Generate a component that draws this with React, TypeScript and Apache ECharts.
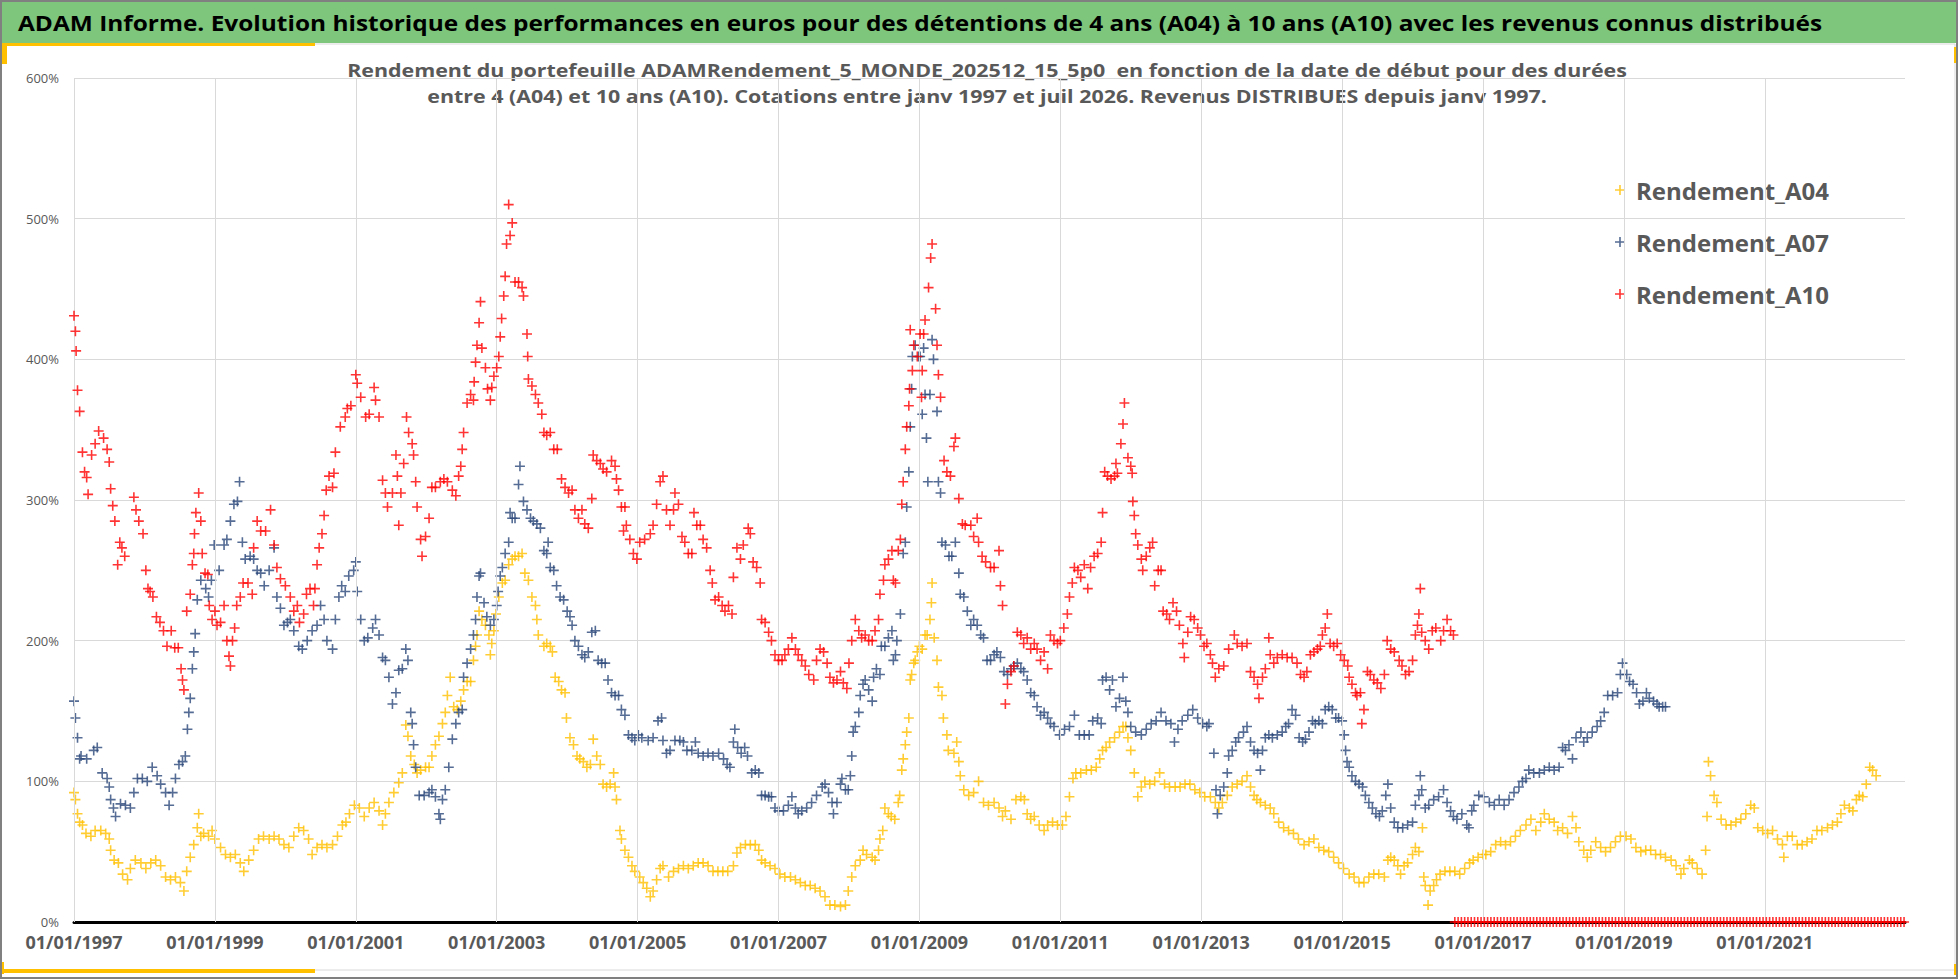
import { useEffect, useRef } from 'react';
import * as echarts from 'echarts';

const TITLE =
  'ADAM Informe. Evolution historique des performances en euros pour des détentions de 4 ans (A04) à 10 ans (A10) avec les revenus connus distribués';
const SUBTITLE_1 =
  'Rendement du portefeuille ADAMRendement_5_MONDE_202512_15_5p0  en fonction de la date de début pour des durées';
const SUBTITLE_2 =
  'entre 4 (A04) et 10 ans (A10). Cotations entre janv 1997 et juil 2026. Revenus DISTRIBUES depuis janv 1997.';

const SERIES_NAMES = ['Rendement_A04', 'Rendement_A07', 'Rendement_A10'];
const SERIES_COLORS = ['#FFC000', '#2B4779', '#FF0000'];

// années affichées sur l'axe (01/01/AAAA)
const X_TICKS = [1997, 1999, 2001, 2003, 2005, 2007, 2009, 2011, 2013, 2015, 2017, 2019, 2021];
const X_MIN = 1997;
const X_MAX = 2022.99;

// [date (année décimale), rendement %]
const rendementA04: [number, number][] = [
  [1997.0, 92], [1997.02, 87], [1997.05, 77], [1997.08, 71], [1997.12, 69], [1997.17, 63], [1997.24, 61], [1997.3, 65],
  [1997.38, 65], [1997.45, 63], [1997.5, 59], [1997.52, 51], [1997.57, 44], [1997.63, 42], [1997.69, 34], [1997.76, 30],
  [1997.8, 38], [1997.87, 44], [1997.95, 42], [1998.02, 38], [1998.09, 42], [1998.16, 44], [1998.23, 40], [1998.3, 32],
  [1998.37, 30], [1998.44, 32], [1998.51, 28], [1998.56, 22], [1998.6, 36], [1998.65, 46], [1998.7, 55], [1998.75, 67],
  [1998.77, 77], [1998.8, 61], [1998.84, 63], [1998.91, 61], [1998.96, 65], [1999.0, 59], [1999.08, 53], [1999.15, 48],
  [1999.22, 46], [1999.29, 48], [1999.36, 42], [1999.41, 36], [1999.48, 44], [1999.55, 51], [1999.62, 59], [1999.69, 61],
  [1999.77, 59], [1999.84, 61], [1999.91, 59], [1999.98, 55], [2000.05, 53], [2000.12, 61], [2000.19, 67], [2000.26, 65],
  [2000.33, 59], [2000.38, 48], [2000.45, 53], [2000.52, 55], [2000.59, 53], [2000.67, 55], [2000.74, 61], [2000.81, 69],
  [2000.86, 71], [2000.91, 77], [2000.98, 83], [2001.05, 81], [2001.12, 75], [2001.19, 81], [2001.26, 85], [2001.33, 79],
  [2001.38, 69], [2001.42, 77], [2001.47, 85], [2001.54, 92], [2001.61, 99], [2001.66, 106], [2001.71, 140], [2001.74, 132],
  [2001.78, 118], [2001.83, 112], [2001.87, 106], [2001.92, 108], [2001.99, 110], [2002.04, 110], [2002.08, 118], [2002.13, 126],
  [2002.18, 132], [2002.23, 141], [2002.27, 149], [2002.3, 161], [2002.34, 174], [2002.39, 153], [2002.44, 151], [2002.49, 157],
  [2002.53, 165], [2002.58, 171], [2002.63, 171], [2002.67, 186], [2002.7, 196], [2002.72, 204], [2002.75, 221], [2002.79, 215],
  [2002.84, 211], [2002.89, 204], [2002.91, 190], [2002.93, 198], [2002.96, 207], [2002.99, 219], [2003.03, 231], [2003.08, 241],
  [2003.12, 243], [2003.17, 254], [2003.22, 258], [2003.26, 260], [2003.31, 260], [2003.36, 262], [2003.4, 248], [2003.45, 243],
  [2003.5, 231], [2003.55, 225], [2003.57, 215], [2003.59, 204], [2003.67, 196], [2003.71, 198], [2003.76, 196], [2003.79, 192],
  [2003.83, 174], [2003.88, 171], [2003.92, 165], [2003.97, 163], [2003.99, 145], [2004.04, 131], [2004.09, 126], [2004.14, 118],
  [2004.18, 116], [2004.23, 114], [2004.28, 110], [2004.33, 112], [2004.37, 130], [2004.42, 118], [2004.47, 112], [2004.51, 98],
  [2004.56, 96], [2004.61, 98], [2004.66, 106], [2004.68, 96], [2004.7, 87], [2004.75, 65], [2004.77, 59], [2004.82, 51],
  [2004.87, 46], [2004.92, 40], [2004.96, 36], [2005.03, 32], [2005.08, 28], [2005.13, 24], [2005.18, 18], [2005.22, 22],
  [2005.27, 30], [2005.32, 38], [2005.36, 40], [2005.44, 32], [2005.51, 36], [2005.58, 38], [2005.65, 40], [2005.72, 38],
  [2005.79, 40], [2005.86, 42], [2005.93, 42], [2006.0, 40], [2006.07, 36], [2006.14, 36], [2006.21, 36], [2006.28, 36],
  [2006.36, 40], [2006.41, 49], [2006.46, 53], [2006.53, 55], [2006.6, 55], [2006.67, 55], [2006.72, 51], [2006.76, 44],
  [2006.81, 42], [2006.88, 40], [2006.95, 38], [2007.02, 34], [2007.09, 32], [2007.17, 32], [2007.24, 30], [2007.31, 28],
  [2007.38, 26], [2007.45, 26], [2007.52, 24], [2007.59, 22], [2007.66, 18], [2007.73, 12], [2007.8, 12], [2007.88, 11],
  [2007.95, 12], [2007.99, 22], [2008.04, 32], [2008.09, 40], [2008.16, 44], [2008.2, 51], [2008.25, 48], [2008.33, 46],
  [2008.37, 44], [2008.42, 51], [2008.44, 59], [2008.48, 65], [2008.51, 81], [2008.56, 77], [2008.6, 75], [2008.65, 73],
  [2008.7, 85], [2008.72, 90], [2008.75, 108], [2008.77, 116], [2008.8, 126], [2008.82, 135], [2008.85, 145], [2008.87, 172],
  [2008.89, 176], [2008.92, 184], [2008.94, 186], [2008.97, 192], [2009.0, 196], [2009.04, 194], [2009.08, 204], [2009.11, 204],
  [2009.15, 215], [2009.17, 227], [2009.18, 241], [2009.21, 202], [2009.25, 186], [2009.27, 167], [2009.32, 161], [2009.34, 145],
  [2009.39, 133], [2009.41, 122], [2009.49, 120], [2009.53, 128], [2009.56, 114], [2009.58, 104], [2009.63, 94], [2009.7, 90],
  [2009.77, 92], [2009.84, 100], [2009.91, 85], [2009.98, 83], [2010.06, 85], [2010.13, 81], [2010.18, 75], [2010.22, 79],
  [2010.3, 73], [2010.37, 87], [2010.44, 89], [2010.49, 87], [2010.53, 77], [2010.58, 73], [2010.63, 75], [2010.7, 69],
  [2010.77, 65], [2010.82, 69], [2010.89, 71], [2010.96, 69], [2011.03, 69], [2011.08, 75], [2011.13, 89], [2011.18, 102],
  [2011.22, 106], [2011.29, 106], [2011.37, 108], [2011.44, 108], [2011.51, 110], [2011.56, 116], [2011.6, 122], [2011.65, 124],
  [2011.7, 128], [2011.77, 131], [2011.84, 135], [2011.89, 139], [2011.93, 139], [2011.96, 131], [2012.0, 122], [2012.05, 106],
  [2012.1, 89], [2012.15, 96], [2012.2, 100], [2012.27, 98], [2012.34, 100], [2012.41, 106], [2012.48, 98], [2012.55, 96],
  [2012.63, 96], [2012.7, 96], [2012.77, 98], [2012.84, 98], [2012.91, 94], [2012.98, 92], [2013.05, 89], [2013.13, 89],
  [2013.2, 85], [2013.25, 81], [2013.3, 85], [2013.37, 90], [2013.44, 96], [2013.51, 98], [2013.58, 100], [2013.65, 104],
  [2013.7, 96], [2013.75, 90], [2013.79, 87], [2013.84, 85], [2013.91, 83], [2013.98, 81], [2014.03, 77], [2014.1, 71],
  [2014.17, 67], [2014.24, 65], [2014.31, 63], [2014.38, 59], [2014.46, 55], [2014.53, 57], [2014.6, 59], [2014.67, 53],
  [2014.74, 51], [2014.81, 50], [2014.88, 46], [2014.95, 42], [2015.02, 38], [2015.1, 34], [2015.17, 32], [2015.24, 28],
  [2015.31, 28], [2015.38, 32], [2015.45, 34], [2015.52, 34], [2015.6, 32], [2015.65, 44], [2015.69, 46], [2015.74, 44],
  [2015.79, 40], [2015.83, 34], [2015.88, 40], [2015.93, 42], [2016.0, 48], [2016.04, 53], [2016.09, 50], [2016.14, 67],
  [2016.16, 32], [2016.18, 26], [2016.22, 12], [2016.25, 22], [2016.3, 26], [2016.34, 30], [2016.39, 34], [2016.46, 36],
  [2016.53, 36], [2016.6, 36], [2016.67, 34], [2016.74, 38], [2016.81, 42], [2016.86, 44], [2016.93, 46], [2017.0, 48],
  [2017.04, 48], [2017.11, 50], [2017.18, 55], [2017.25, 57], [2017.32, 55], [2017.39, 57], [2017.46, 61], [2017.53, 65],
  [2017.61, 69], [2017.68, 73], [2017.75, 65], [2017.82, 71], [2017.87, 77], [2017.94, 73], [2018.01, 71], [2018.06, 65],
  [2018.13, 67], [2018.2, 63], [2018.27, 75], [2018.32, 67], [2018.36, 57], [2018.43, 51], [2018.48, 46], [2018.53, 51],
  [2018.6, 57], [2018.67, 53], [2018.74, 50], [2018.81, 53], [2018.88, 57], [2018.95, 61], [2019.03, 61], [2019.1, 59],
  [2019.17, 53], [2019.24, 50], [2019.31, 51], [2019.38, 51], [2019.45, 48], [2019.52, 48], [2019.59, 46], [2019.67, 44],
  [2019.74, 40], [2019.81, 34], [2019.85, 38], [2019.93, 44], [2019.97, 42], [2020.04, 38], [2020.11, 34], [2020.16, 51],
  [2020.18, 75], [2020.2, 114], [2020.23, 104], [2020.28, 90], [2020.32, 85], [2020.38, 73], [2020.45, 69], [2020.52, 69],
  [2020.59, 71], [2020.66, 73], [2020.73, 77], [2020.8, 83], [2020.85, 81], [2020.9, 67], [2020.97, 65], [2021.04, 63],
  [2021.11, 65], [2021.18, 59], [2021.25, 55], [2021.27, 46], [2021.32, 61], [2021.39, 61], [2021.46, 55], [2021.53, 55],
  [2021.6, 57], [2021.67, 59], [2021.74, 65], [2021.81, 65], [2021.89, 67], [2021.96, 69], [2022.03, 71], [2022.08, 77],
  [2022.13, 83], [2022.2, 81], [2022.25, 79], [2022.3, 87], [2022.34, 90], [2022.39, 89], [2022.44, 98], [2022.49, 110],
  [2022.53, 108], [2022.58, 104],
];

const rendementA07: [number, number][] = [
  [1997.0, 157], [1997.02, 145], [1997.05, 131], [1997.08, 116], [1997.1, 118], [1997.18, 116], [1997.28, 122], [1997.33, 124],
  [1997.4, 106], [1997.47, 102], [1997.5, 96], [1997.52, 87], [1997.56, 81], [1997.59, 75], [1997.66, 84], [1997.73, 83],
  [1997.8, 81], [1997.85, 92], [1997.9, 102], [1997.97, 102], [1998.04, 100], [1998.11, 110], [1998.18, 104], [1998.23, 98],
  [1998.3, 92], [1998.35, 83], [1998.4, 92], [1998.44, 102], [1998.49, 112], [1998.54, 114], [1998.58, 118], [1998.61, 137],
  [1998.63, 149], [1998.65, 159], [1998.68, 180], [1998.7, 192], [1998.72, 205], [1998.75, 229], [1998.8, 243], [1998.87, 237],
  [1998.91, 231], [1998.95, 243], [1998.99, 268], [1999.06, 250], [1999.13, 268], [1999.17, 272], [1999.22, 285], [1999.27, 297],
  [1999.32, 299], [1999.35, 313], [1999.39, 270], [1999.43, 258], [1999.5, 260], [1999.55, 258], [1999.6, 250], [1999.65, 248],
  [1999.7, 239], [1999.77, 250], [1999.84, 266], [1999.88, 231], [1999.93, 223], [1999.98, 211], [2000.03, 213], [2000.07, 215],
  [2000.12, 207], [2000.19, 196], [2000.24, 194], [2000.31, 200], [2000.38, 207], [2000.45, 211], [2000.5, 225], [2000.55, 215],
  [2000.59, 200], [2000.67, 194], [2000.71, 215], [2000.76, 231], [2000.8, 239], [2000.85, 235], [2000.9, 246], [2000.97, 250],
  [2001.0, 256], [2001.02, 235], [2001.07, 215], [2001.12, 200], [2001.17, 202], [2001.24, 209], [2001.28, 215], [2001.33, 204],
  [2001.38, 188], [2001.42, 186], [2001.47, 174], [2001.52, 155], [2001.57, 163], [2001.61, 179], [2001.66, 180], [2001.71, 194],
  [2001.74, 186], [2001.78, 149], [2001.8, 141], [2001.82, 126], [2001.85, 110], [2001.9, 90], [2001.97, 90], [2002.04, 92],
  [2002.08, 94], [2002.13, 89], [2002.18, 77], [2002.2, 73], [2002.23, 87], [2002.27, 94], [2002.32, 110], [2002.37, 130],
  [2002.42, 141], [2002.46, 149], [2002.51, 151], [2002.53, 174], [2002.58, 184], [2002.63, 194], [2002.67, 204], [2002.7, 215],
  [2002.72, 231], [2002.75, 246], [2002.77, 248], [2002.82, 227], [2002.86, 217], [2002.91, 211], [2002.96, 215], [2003.0, 225],
  [2003.02, 235], [2003.05, 246], [2003.08, 252], [2003.12, 262], [2003.17, 270], [2003.19, 291], [2003.22, 287], [2003.26, 287],
  [2003.31, 311], [2003.33, 324], [2003.38, 299], [2003.43, 293], [2003.48, 287], [2003.52, 285], [2003.57, 283], [2003.62, 280],
  [2003.67, 264], [2003.71, 262], [2003.73, 270], [2003.76, 252], [2003.81, 250], [2003.85, 239], [2003.9, 231], [2003.95, 229],
  [2004.0, 221], [2004.04, 217], [2004.07, 211], [2004.11, 200], [2004.16, 196], [2004.21, 190], [2004.25, 188], [2004.3, 192],
  [2004.35, 206], [2004.4, 207], [2004.44, 186], [2004.49, 184], [2004.54, 184], [2004.58, 172], [2004.63, 163], [2004.68, 161],
  [2004.73, 161], [2004.77, 151], [2004.82, 147], [2004.87, 133], [2004.92, 131], [2004.96, 129], [2005.01, 133], [2005.06, 131],
  [2005.15, 129], [2005.22, 131], [2005.29, 143], [2005.34, 145], [2005.36, 129], [2005.41, 120], [2005.46, 122], [2005.53, 129],
  [2005.6, 129], [2005.65, 128], [2005.7, 122], [2005.77, 122], [2005.82, 128], [2005.86, 120], [2005.93, 118], [2006.0, 120],
  [2006.07, 118], [2006.15, 120], [2006.22, 116], [2006.27, 112], [2006.31, 110], [2006.36, 128], [2006.38, 137], [2006.42, 124],
  [2006.47, 120], [2006.52, 124], [2006.56, 118], [2006.62, 106], [2006.67, 108], [2006.72, 106], [2006.76, 90], [2006.81, 90],
  [2006.86, 89], [2006.9, 89], [2006.95, 81], [2007.0, 79], [2007.07, 79], [2007.14, 83], [2007.19, 89], [2007.24, 81],
  [2007.28, 77], [2007.33, 79], [2007.4, 81], [2007.47, 85], [2007.54, 90], [2007.62, 96], [2007.66, 98], [2007.71, 92],
  [2007.76, 85], [2007.78, 77], [2007.83, 85], [2007.88, 98], [2007.9, 102], [2007.95, 94], [2007.99, 94], [2008.02, 104],
  [2008.04, 118], [2008.06, 135], [2008.09, 139], [2008.14, 149], [2008.16, 161], [2008.2, 169], [2008.23, 172], [2008.28, 165],
  [2008.33, 157], [2008.35, 174], [2008.39, 180], [2008.44, 176], [2008.46, 196], [2008.51, 196], [2008.56, 202], [2008.61, 207],
  [2008.63, 186], [2008.66, 190], [2008.68, 200], [2008.73, 219], [2008.77, 262], [2008.8, 270], [2008.82, 295], [2008.85, 320],
  [2008.87, 352], [2008.89, 379], [2008.9, 402], [2008.94, 410], [2008.99, 402], [2009.01, 402], [2009.04, 361], [2009.06, 408],
  [2009.08, 375], [2009.1, 344], [2009.12, 313], [2009.15, 375], [2009.18, 414], [2009.2, 400], [2009.25, 363], [2009.27, 313],
  [2009.3, 305], [2009.32, 270], [2009.37, 268], [2009.42, 260], [2009.46, 260], [2009.51, 270], [2009.56, 248], [2009.58, 233],
  [2009.63, 231], [2009.68, 221], [2009.73, 211], [2009.77, 215], [2009.82, 211], [2009.87, 204], [2009.91, 202], [2009.96, 186],
  [2010.01, 186], [2010.06, 190], [2010.1, 192], [2010.15, 188], [2010.2, 178], [2010.25, 176], [2010.3, 180], [2010.34, 182],
  [2010.39, 184], [2010.44, 180], [2010.48, 178], [2010.53, 172], [2010.58, 163], [2010.63, 161], [2010.67, 153], [2010.72, 147],
  [2010.77, 149], [2010.82, 145], [2010.86, 141], [2010.91, 139], [2010.99, 133], [2011.06, 137], [2011.13, 139], [2011.2, 147],
  [2011.27, 133], [2011.34, 133], [2011.41, 133], [2011.46, 143], [2011.53, 145], [2011.58, 141], [2011.6, 172], [2011.65, 174],
  [2011.7, 165], [2011.74, 172], [2011.79, 153], [2011.84, 159], [2011.89, 174], [2011.93, 157], [2011.96, 149], [2012.0, 139],
  [2012.07, 135], [2012.15, 133], [2012.22, 137], [2012.29, 141], [2012.36, 143], [2012.43, 149], [2012.5, 143], [2012.57, 141],
  [2012.62, 128], [2012.67, 137], [2012.73, 143], [2012.81, 147], [2012.88, 151], [2012.95, 145], [2013.02, 141], [2013.08, 139],
  [2013.11, 141], [2013.18, 120], [2013.21, 94], [2013.23, 77], [2013.27, 90], [2013.32, 96], [2013.37, 106], [2013.39, 118],
  [2013.44, 122], [2013.49, 128], [2013.53, 131], [2013.6, 135], [2013.65, 139], [2013.7, 128], [2013.75, 122], [2013.8, 120],
  [2013.84, 108], [2013.87, 122], [2013.91, 131], [2013.96, 133], [2014.01, 131], [2014.08, 133], [2014.15, 135], [2014.2, 139],
  [2014.24, 141], [2014.29, 151], [2014.34, 147], [2014.39, 131], [2014.44, 128], [2014.48, 130], [2014.53, 135], [2014.58, 143],
  [2014.62, 141], [2014.67, 143], [2014.72, 141], [2014.76, 151], [2014.81, 153], [2014.86, 151], [2014.91, 145], [2014.95, 145],
  [2015.0, 143], [2015.03, 133], [2015.05, 122], [2015.07, 114], [2015.1, 110], [2015.14, 104], [2015.19, 100], [2015.24, 98],
  [2015.29, 96], [2015.33, 90], [2015.38, 85], [2015.43, 81], [2015.48, 77], [2015.53, 75], [2015.57, 79], [2015.62, 90],
  [2015.65, 98], [2015.69, 81], [2015.74, 71], [2015.79, 67], [2015.86, 67], [2015.93, 69], [2016.0, 71], [2016.04, 83],
  [2016.09, 90], [2016.11, 104], [2016.13, 94], [2016.18, 81], [2016.23, 83], [2016.3, 87], [2016.37, 89], [2016.44, 94],
  [2016.49, 85], [2016.54, 79], [2016.58, 75], [2016.63, 73], [2016.7, 77], [2016.77, 69], [2016.8, 67], [2016.84, 79],
  [2016.87, 83], [2016.94, 90], [2017.01, 89], [2017.09, 85], [2017.16, 83], [2017.23, 87], [2017.3, 83], [2017.37, 87],
  [2017.44, 92], [2017.51, 96], [2017.56, 100], [2017.61, 102], [2017.65, 108], [2017.72, 106], [2017.8, 106], [2017.87, 108],
  [2017.94, 110], [2018.01, 108], [2018.08, 110], [2018.13, 124], [2018.17, 122], [2018.22, 126], [2018.27, 116], [2018.32, 131],
  [2018.39, 135], [2018.43, 128], [2018.48, 131], [2018.55, 135], [2018.62, 139], [2018.67, 143], [2018.72, 149], [2018.77, 161],
  [2018.84, 161], [2018.91, 163], [2018.95, 176], [2018.98, 184], [2019.04, 176], [2019.08, 171], [2019.13, 169], [2019.18, 163],
  [2019.22, 155], [2019.27, 157], [2019.32, 163], [2019.36, 159], [2019.42, 157], [2019.47, 155], [2019.5, 153], [2019.55, 153],
  [2019.59, 153],
];

const rendementA10: [number, number][] = [
  [1997.0, 431], [1997.02, 420], [1997.03, 406], [1997.05, 378], [1997.08, 363], [1997.12, 334], [1997.15, 320], [1997.18, 316],
  [1997.2, 304], [1997.25, 332], [1997.3, 340], [1997.35, 349], [1997.42, 344], [1997.47, 336], [1997.5, 327], [1997.52, 308],
  [1997.55, 296], [1997.58, 285], [1997.62, 254], [1997.65, 270], [1997.68, 266], [1997.72, 260], [1997.85, 302], [1997.88, 293],
  [1997.92, 285], [1997.98, 276], [1998.02, 250], [1998.05, 237], [1998.08, 235], [1998.12, 231], [1998.17, 217], [1998.22, 213],
  [1998.27, 207], [1998.32, 196], [1998.38, 207], [1998.43, 195], [1998.48, 195], [1998.52, 180], [1998.54, 172], [1998.56, 165],
  [1998.6, 221], [1998.65, 233], [1998.68, 254], [1998.7, 262], [1998.71, 276], [1998.73, 291], [1998.77, 305], [1998.8, 285],
  [1998.82, 262], [1998.86, 248], [1998.9, 247], [1998.92, 225], [1998.96, 215], [1999.0, 221], [1999.03, 211], [1999.08, 213],
  [1999.13, 225], [1999.17, 200], [1999.2, 189], [1999.22, 182], [1999.25, 200], [1999.28, 209], [1999.31, 225], [1999.36, 231],
  [1999.4, 241], [1999.47, 241], [1999.53, 233], [1999.55, 266], [1999.6, 285], [1999.65, 278], [1999.72, 278], [1999.79, 293],
  [1999.84, 268], [1999.88, 252], [1999.93, 244], [2000.0, 239], [2000.07, 231], [2000.12, 221], [2000.17, 225], [2000.2, 213],
  [2000.26, 219], [2000.3, 233], [2000.35, 237], [2000.4, 225], [2000.42, 237], [2000.45, 254], [2000.48, 266], [2000.52, 276],
  [2000.55, 289], [2000.58, 307], [2000.62, 317], [2000.67, 309], [2000.69, 319], [2000.71, 334], [2000.78, 352], [2000.85, 359],
  [2000.88, 365], [2000.93, 367], [2001.0, 389], [2001.02, 383], [2001.07, 373], [2001.14, 359], [2001.19, 361], [2001.26, 380],
  [2001.28, 371], [2001.33, 359], [2001.38, 314], [2001.42, 305], [2001.45, 295], [2001.52, 305], [2001.57, 332], [2001.59, 317],
  [2001.61, 282], [2001.64, 305], [2001.68, 326], [2001.72, 359], [2001.75, 348], [2001.8, 340], [2001.82, 332], [2001.85, 313],
  [2001.87, 295], [2001.92, 272], [2001.94, 260], [2001.99, 274], [2002.04, 287], [2002.08, 309], [2002.13, 309], [2002.2, 313],
  [2002.25, 315], [2002.3, 313], [2002.37, 307], [2002.42, 303], [2002.46, 317], [2002.49, 324], [2002.51, 336], [2002.53, 348],
  [2002.58, 369], [2002.63, 375], [2002.67, 371], [2002.68, 384], [2002.7, 398], [2002.72, 410], [2002.75, 426], [2002.77, 441],
  [2002.79, 408], [2002.84, 394], [2002.87, 379], [2002.91, 371], [2002.93, 380], [2002.96, 388], [2003.0, 394], [2003.03, 402],
  [2003.05, 416], [2003.07, 429], [2003.1, 445], [2003.12, 459], [2003.14, 482], [2003.17, 510], [2003.19, 488], [2003.22, 497],
  [2003.26, 455], [2003.31, 455], [2003.36, 451], [2003.38, 445], [2003.43, 418], [2003.44, 402], [2003.45, 386], [2003.5, 381],
  [2003.55, 375], [2003.59, 369], [2003.64, 361], [2003.67, 348], [2003.71, 346], [2003.76, 348], [2003.81, 336], [2003.86, 336],
  [2003.92, 315], [2003.97, 309], [2004.02, 305], [2004.07, 307], [2004.11, 293], [2004.16, 287], [2004.21, 293], [2004.25, 283],
  [2004.3, 280], [2004.35, 301], [2004.37, 332], [2004.42, 328], [2004.47, 326], [2004.51, 322], [2004.56, 320], [2004.63, 328],
  [2004.68, 324], [2004.7, 315], [2004.73, 307], [2004.77, 295], [2004.8, 278], [2004.82, 295], [2004.84, 282], [2004.89, 272],
  [2004.94, 262], [2004.99, 258], [2005.03, 270], [2005.1, 272], [2005.18, 276], [2005.22, 282], [2005.27, 297], [2005.32, 313],
  [2005.36, 317], [2005.41, 293], [2005.46, 282], [2005.51, 293], [2005.53, 305], [2005.58, 297], [2005.63, 274], [2005.67, 270],
  [2005.72, 262], [2005.77, 262], [2005.8, 291], [2005.84, 282], [2005.89, 282], [2005.93, 272], [2005.98, 266], [2006.03, 250],
  [2006.06, 241], [2006.1, 229], [2006.15, 231], [2006.2, 225], [2006.24, 221], [2006.29, 225], [2006.34, 219], [2006.36, 245],
  [2006.41, 266], [2006.46, 258], [2006.5, 268], [2006.57, 280], [2006.6, 276], [2006.64, 256], [2006.69, 252], [2006.74, 241],
  [2006.76, 215], [2006.81, 213], [2006.86, 206], [2006.9, 200], [2006.95, 190], [2007.0, 186], [2007.05, 186], [2007.09, 190],
  [2007.14, 194], [2007.19, 202], [2007.24, 194], [2007.28, 190], [2007.33, 186], [2007.38, 182], [2007.43, 176], [2007.5, 172],
  [2007.54, 186], [2007.59, 194], [2007.64, 192], [2007.69, 184], [2007.73, 174], [2007.78, 170], [2007.83, 172], [2007.88, 178],
  [2007.92, 170], [2007.97, 166], [2008.0, 184], [2008.04, 200], [2008.09, 215], [2008.14, 207], [2008.18, 202], [2008.23, 204],
  [2008.28, 200], [2008.33, 200], [2008.37, 207], [2008.42, 215], [2008.44, 233], [2008.49, 243], [2008.51, 254], [2008.56, 258],
  [2008.61, 264], [2008.63, 243], [2008.66, 241], [2008.7, 264], [2008.73, 272], [2008.75, 297], [2008.77, 313], [2008.8, 336],
  [2008.82, 352], [2008.85, 367], [2008.86, 379], [2008.87, 421], [2008.9, 392], [2008.92, 410], [2008.97, 402], [2009.01, 418],
  [2009.03, 373], [2009.04, 392], [2009.06, 418], [2009.08, 428], [2009.13, 451], [2009.16, 472], [2009.18, 482], [2009.23, 436],
  [2009.25, 410], [2009.27, 389], [2009.3, 373], [2009.35, 328], [2009.39, 320], [2009.44, 317], [2009.49, 338], [2009.51, 344],
  [2009.56, 301], [2009.61, 283], [2009.65, 282], [2009.73, 282], [2009.77, 274], [2009.82, 287], [2009.84, 270], [2009.89, 260],
  [2009.94, 256], [2010.01, 252], [2010.06, 252], [2010.13, 264], [2010.15, 239], [2010.18, 225], [2010.22, 155], [2010.25, 169],
  [2010.3, 178], [2010.34, 182], [2010.39, 206], [2010.44, 204], [2010.48, 198], [2010.53, 202], [2010.58, 194], [2010.63, 198],
  [2010.67, 194], [2010.72, 186], [2010.77, 192], [2010.82, 180], [2010.86, 204], [2010.91, 200], [2010.96, 198], [2011.0, 200],
  [2011.05, 209], [2011.1, 219], [2011.13, 231], [2011.17, 241], [2011.2, 252], [2011.25, 250], [2011.29, 245], [2011.34, 254],
  [2011.39, 237], [2011.43, 252], [2011.48, 260], [2011.53, 262], [2011.58, 270], [2011.6, 291], [2011.63, 320], [2011.67, 317],
  [2011.72, 315], [2011.77, 317], [2011.79, 326], [2011.81, 319], [2011.86, 340], [2011.89, 354], [2011.91, 369], [2011.96, 330],
  [2012.0, 324], [2012.02, 319], [2012.03, 299], [2012.05, 289], [2012.07, 276], [2012.1, 268], [2012.15, 258], [2012.17, 250],
  [2012.22, 260], [2012.27, 266], [2012.31, 270], [2012.34, 239], [2012.39, 250], [2012.43, 250], [2012.46, 221], [2012.51, 219],
  [2012.55, 215], [2012.6, 227], [2012.65, 221], [2012.69, 211], [2012.74, 198], [2012.76, 188], [2012.81, 206], [2012.85, 217],
  [2012.9, 215], [2012.95, 209], [2012.99, 204], [2013.04, 196], [2013.08, 198], [2013.13, 190], [2013.16, 184], [2013.2, 174],
  [2013.25, 180], [2013.32, 182], [2013.39, 194], [2013.47, 204], [2013.51, 198], [2013.58, 196], [2013.65, 198], [2013.7, 178],
  [2013.75, 174], [2013.8, 169], [2013.82, 159], [2013.87, 174], [2013.91, 180], [2013.96, 202], [2013.98, 190], [2014.03, 184],
  [2014.08, 188], [2014.15, 190], [2014.22, 188], [2014.29, 188], [2014.36, 184], [2014.41, 176], [2014.46, 174], [2014.5, 178],
  [2014.55, 190], [2014.6, 192], [2014.65, 194], [2014.69, 196], [2014.72, 204], [2014.76, 209], [2014.79, 219], [2014.83, 198],
  [2014.88, 196], [2014.93, 198], [2014.98, 190], [2015.03, 186], [2015.08, 182], [2015.1, 174], [2015.14, 169], [2015.19, 163],
  [2015.21, 161], [2015.26, 163], [2015.28, 141], [2015.31, 151], [2015.36, 178], [2015.4, 176], [2015.45, 172], [2015.5, 170],
  [2015.55, 166], [2015.6, 176], [2015.64, 200], [2015.69, 194], [2015.74, 192], [2015.81, 186], [2015.85, 182], [2015.9, 176],
  [2015.95, 178], [2016.0, 186], [2016.04, 204], [2016.07, 211], [2016.09, 219], [2016.11, 237], [2016.13, 206], [2016.18, 200],
  [2016.23, 194], [2016.28, 207], [2016.33, 209], [2016.4, 200], [2016.44, 207], [2016.49, 215], [2016.54, 207], [2016.58, 204],
];

// après la fin des cotations A10 la série vaut 0
const A10_ZERO_START = 2016.6;
const A10_ZERO_VALUE = 0;
const a10Zeros: [number, number][] = [];
for (let d = A10_ZERO_START; d <= X_MAX; d += 17 / 365.25) a10Zeros.push([d, A10_ZERO_VALUE]);

const PLUS = 'path://M4.2,0H5.8V4.2H10V5.8H5.8V10H4.2V5.8H0V4.2H4.2Z';
const FONT = '"Open Sans", "Noto Sans", sans-serif';

function measure(text: string, font: string) {
  const ctx = document.createElement('canvas').getContext('2d');
  if (!ctx) return 1;
  ctx.font = font;
  return ctx.measureText(text).width || 1;
}

export default function App() {
  const chartRef = useRef<HTMLDivElement>(null);

  useEffect(() => {
    if (!chartRef.current) return;
    const chart = echarts.init(chartRef.current, null, { renderer: 'svg' });

    const titleFont = `bold 21px ${FONT}`;
    const subFont = `bold 18px ${FONT}`;
    const titleScale = 1805 / measure(TITLE, titleFont);
    const subScale = 1281 / measure(SUBTITLE_1, subFont);

    const scatter = (i: number, data: [number, number][]) => ({
      name: SERIES_NAMES[i],
      type: 'scatter' as const,
      symbol: PLUS,
      symbolSize: 10,
      itemStyle: { color: SERIES_COLORS[i] },
      data,
      z: 3 + i,
    });

    const option: echarts.EChartsOption = {
      animation: false,
      backgroundColor: '#ffffff',
      grid: { left: 74, top: 78, width: 1831, height: 844 },
      legend: {
        data: SERIES_NAMES,
        orient: 'vertical',
        left: 1610,
        top: 173,
        itemWidth: 22,
        itemHeight: 10,
        itemGap: 28,
        icon: PLUS,
        textStyle: { fontFamily: FONT, fontWeight: 'bold', fontSize: 24, color: '#595959' },
      },
      xAxis: {
        type: 'value',
        min: X_MIN,
        max: X_MAX,
        interval: 2,
        axisLine: { show: true, lineStyle: { color: '#000000', width: 3 } },
        axisTick: { show: false },
        splitLine: { show: false },
        axisLabel: {
          margin: 11,
          fontFamily: FONT,
          fontWeight: 'bold',
          fontSize: 18,
          color: '#595959',
          formatter: (v: number) => (X_TICKS.includes(Math.round(v)) && Math.abs(v - Math.round(v)) < 1e-6 ? `01/01/${Math.round(v)}` : ''),
        },
      },
      yAxis: {
        type: 'value',
        min: 0,
        max: 600,
        interval: 100,
        axisLine: { show: false },
        axisTick: { show: false },
        splitLine: { lineStyle: { color: '#d9d9d9', width: 1 } },
        axisLabel: { margin: 15, fontFamily: FONT, fontSize: 13, color: '#595959', formatter: '{value}%' },
      },
      series: [
        {
          name: 'grille',
          type: 'scatter',
          data: [],
          z: 1,
          silent: true,
          markLine: {
            silent: true,
            symbol: ['none', 'none'],
            label: { show: false },
            lineStyle: { color: '#d9d9d9', width: 1, type: 'solid' },
            data: X_TICKS.map((t) => ({ xAxis: t })),
          },
        },
        scatter(0, rendementA04),
        scatter(1, rendementA07),
        scatter(2, [...rendementA10, ...a10Zeros]),
      ],
      graphic: [
        { type: 'rect', shape: { x: 0, y: 0, width: 1958, height: 43 }, style: { fill: '#7DC67C' }, silent: true },
        { type: 'rect', shape: { x: 1, y: 44, width: 1954, height: 926 }, style: { fill: 'none', stroke: '#d9d9d9', lineWidth: 1 }, silent: true },
        { type: 'rect', shape: { x: 0, y: 43, width: 315, height: 3 }, style: { fill: '#FFC000' }, silent: true },
        { type: 'rect', shape: { x: 0, y: 43, width: 7, height: 21 }, style: { fill: '#FFC000' }, silent: true },
        { type: 'rect', shape: { x: 0, y: 969, width: 315, height: 4 }, style: { fill: '#FFC000' }, silent: true },
        { type: 'rect', shape: { x: 0, y: 962, width: 4, height: 12 }, style: { fill: '#FFC000' }, silent: true },
        { type: 'rect', shape: { x: 1954, y: 47, width: 3, height: 16 }, style: { fill: '#FFC000' }, silent: true },
        { type: 'rect', shape: { x: 1954, y: 964, width: 3, height: 11 }, style: { fill: '#FFC000' }, silent: true },
        { type: 'rect', shape: { x: 1, y: 1, width: 1956, height: 977 }, style: { fill: 'none', stroke: '#808080', lineWidth: 2 }, silent: true },
        {
          type: 'text',
          x: 18,
          y: 23,
          scaleX: titleScale,
          silent: true,
          style: { text: TITLE, font: titleFont, fill: '#000000', textAlign: 'left', textVerticalAlign: 'middle', align: 'left', verticalAlign: 'middle' } as any,
        },
        {
          type: 'text',
          x: 987,
          y: 70,
          scaleX: subScale,
          silent: true,
          style: { text: SUBTITLE_1, font: subFont, fill: '#595959', textAlign: 'center', textVerticalAlign: 'middle', align: 'center', verticalAlign: 'middle' } as any,
        },
        {
          type: 'text',
          x: 987,
          y: 96,
          scaleX: subScale,
          silent: true,
          style: { text: SUBTITLE_2, font: subFont, fill: '#595959', textAlign: 'center', textVerticalAlign: 'middle', align: 'center', verticalAlign: 'middle' } as any,
        },
      ],
    };

    chart.setOption(option);

    return () => {
      chart.dispose();
    };
  }, []);

  return (
    <div
      ref={chartRef}
      style={{ position: 'fixed', left: 0, top: 0, width: 1958, height: 979, background: '#ffffff' }}
    />
  );
}
